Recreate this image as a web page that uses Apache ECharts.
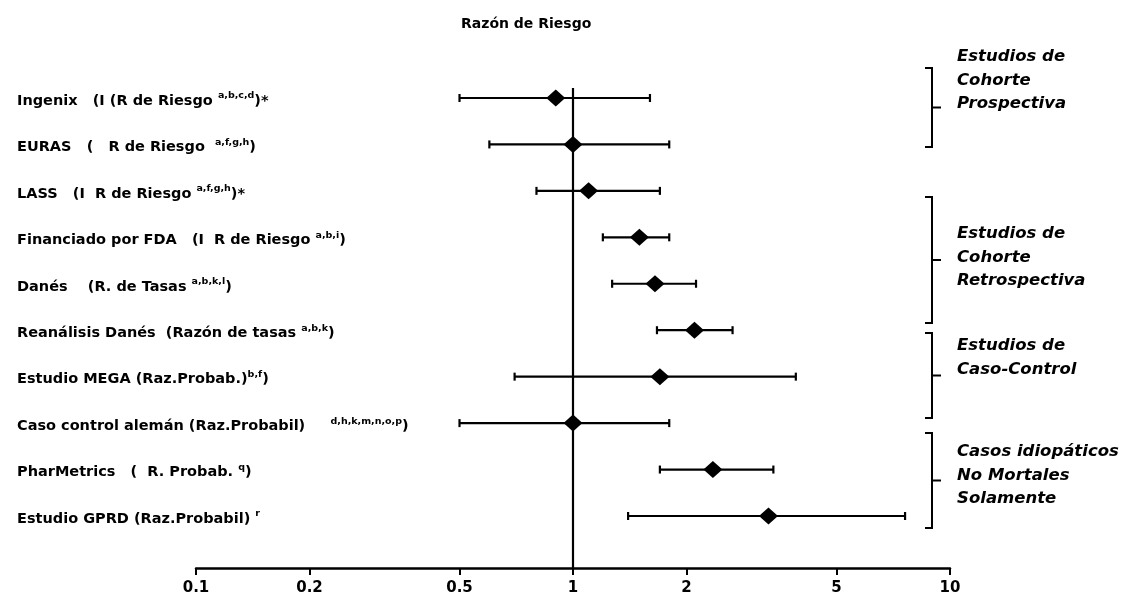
<!DOCTYPE html>
<html>
<head>
<meta charset="utf-8">
<script src="https://cdn.jsdelivr.net/npm/echarts@6/dist/echarts.min.js"></script>
<style>
  html, body { margin: 0; padding: 0; background: #fff; }
  #chart { width: 1131px; height: 608px; }
</style>
</head>
<body>
<div id="chart"></div>
<script>
// filas del gráfico (de arriba a abajo)
const labelText = [
  'Ingenix   (I (R de Riesgo ',
  'EURAS   (   R de Riesgo  ',
  'LASS   (I  R de Riesgo ',
  'Financiado por FDA   (I  R de Riesgo ',
  'Danés    (R. de Tasas ',
  'Reanálisis Danés  (Razón de tasas ',
  'Estudio MEGA (Raz.Probab.)',
  'Caso control alemán (Raz.Probabil)     ',
  'PharMetrics   (  R. Probab. ',
  'Estudio GPRD (Raz.Probabil) '
];
const labelSup = ['a,b,c,d', 'a,f,g,h', 'a,f,g,h', 'a,b,i', 'a,b,k,l', 'a,b,k', 'b,f', 'd,h,k,m,n,o,p', 'q', 'r'];
const labelTail = [')*', ')', ')*', ')', ')', ')', ')', ')', ')', ''];

// razón de riesgo e intervalo de confianza
const riskRatio = [0.9, 1.0, 1.1, 1.5, 1.65, 2.1, 1.7, 1.0, 2.35, 3.3];
const ciLow = [0.5, 0.6, 0.8, 1.2, 1.27, 1.67, 0.7, 0.5, 1.7, 1.4];
const ciHigh = [1.6, 1.8, 1.7, 1.8, 2.12, 2.65, 3.9, 1.8, 3.4, 7.6];

// eje x
const xTickValues = [0.1, 0.2, 0.5, 1, 2, 5, 10];
const xTickLabels = ['0.1', '0.2', '0.5', '1', '2', '5', '10'];

// grupos de estudios
const groupLines = [
  ['Estudios de', 'Cohorte', 'Prospectiva'],
  ['Estudios de', 'Cohorte', 'Retrospectiva'],
  ['Estudios de', 'Caso-Control'],
  ['Casos idiopáticos', 'No Mortales', 'Solamente']
];
const groupSpan = [[68, 147], [197, 323], [333, 418], [433, 528]];
const groupTextTop = [45, 222, 334, 440];

const FONT = 'DejaVu Sans';
const rows = labelText.map((_, i) => i);

const chart = echarts.init(document.getElementById('chart'));

const graphics = [];
groupSpan.forEach((s, i) => {
  const mid = (s[0] + s[1]) / 2;
  graphics.push({
    type: 'polyline',
    shape: { points: [[925, s[0]], [932, s[0]], [932, s[1]], [925, s[1]]] },
    style: { stroke: '#000', lineWidth: 2, fill: null }
  });
  graphics.push({
    type: 'line',
    shape: { x1: 932, y1: mid, x2: 941, y2: mid },
    style: { stroke: '#000', lineWidth: 2 }
  });
  graphics.push({
    type: 'text',
    left: 957,
    top: groupTextTop[i],
    style: {
      text: groupLines[i].join('\n'),
      fontSize: 16.5,
      fontStyle: 'italic',
      fontWeight: 'bold',
      fontFamily: FONT,
      lineHeight: 23.5,
      fill: '#000'
    }
  });
});

chart.setOption({
  animation: false,
  title: {
    text: 'Razón de Riesgo',
    left: 456,
    top: 12,
    textStyle: { fontSize: 14, fontWeight: 'bold', fontFamily: FONT, color: '#000' }
  },
  grid: { left: 196, right: 181, top: 88, bottom: 40, outerBoundsMode: 'none' },
  xAxis: {
    type: 'log',
    logBase: 10,
    min: 0.1,
    max: 10,
    axisLine: { onZero: false, lineStyle: { color: '#000', width: 2.5 } },
    axisTick: { customValues: xTickValues, length: 7, lineStyle: { color: '#000', width: 2 } },
    axisLabel: {
      customValues: xTickValues,
      margin: 13,
      fontSize: 15,
      fontWeight: 'bold',
      fontFamily: FONT,
      color: '#000',
      formatter: v => {
        let best = 0;
        xTickValues.forEach((t, i) => { if (Math.abs(t - v) < Math.abs(xTickValues[best] - v)) best = i; });
        return xTickLabels[best];
      }
    },
    splitLine: { show: false },
    minorSplitLine: { show: false }
  },
  yAxis: {
    type: 'value',
    inverse: true,
    min: -0.215,
    max: 10.12,
    axisLine: { show: false },
    axisTick: { show: false },
    splitLine: { show: false },
    axisLabel: {
      customValues: rows,
      align: 'left',
      margin: 179,
      padding: [6, 0, 0, 0],
      formatter: v => {
        const i = Math.round(v);
        return '{m|' + labelText[i] + '}{s|' + labelSup[i] + '}{m|' + labelTail[i] + '}';
      },
      rich: {
        m: { fontSize: 14.5, fontWeight: 'bold', fontFamily: FONT, color: '#000' },
        s: { fontSize: 9.5, fontWeight: 'bold', fontFamily: FONT, color: '#000', padding: [0, 0, 10, 0] }
      }
    }
  },
  graphic: graphics,
  series: [
    {
      type: 'custom',
      data: rows.map(i => [i, ciLow[i], ciHigh[i]]),
      encode: { x: [1, 2], y: 0 },
      renderItem: (params, api) => {
        const y = api.value(0);
        const a = api.coord([api.value(1), y]);
        const b = api.coord([api.value(2), y]);
        const st = { stroke: '#000', lineWidth: 2.2 };
        return {
          type: 'group',
          children: [
            { type: 'line', shape: { x1: a[0], y1: a[1], x2: b[0], y2: b[1] }, style: st },
            { type: 'line', shape: { x1: a[0], y1: a[1] - 4, x2: a[0], y2: a[1] + 4 }, style: st },
            { type: 'line', shape: { x1: b[0], y1: b[1] - 4, x2: b[0], y2: b[1] + 4 }, style: st }
          ]
        };
      }
    },
    {
      type: 'scatter',
      data: rows.map(i => [riskRatio[i], i]),
      symbol: 'diamond',
      symbolSize: [19, 17],
      itemStyle: { color: '#000', opacity: 1 },
      z: 5,
      markLine: {
        silent: true,
        symbol: ['none', 'none'],
        label: { show: false },
        lineStyle: { color: '#000', width: 2.2, type: 'solid' },
        data: [{ xAxis: 1 }]
      }
    }
  ]
});
</script>
</body>
</html>
